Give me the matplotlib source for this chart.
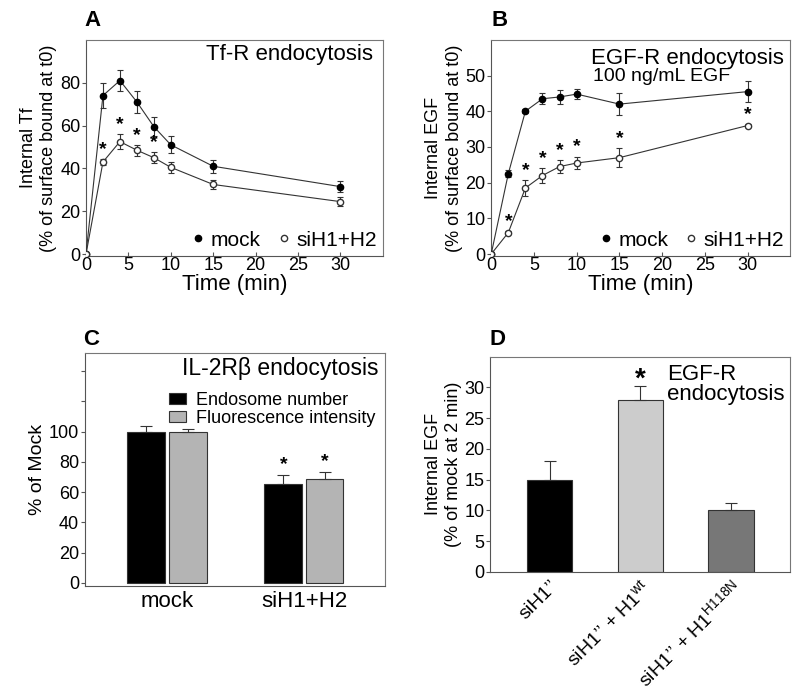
import matplotlib
matplotlib.use("Agg")
import matplotlib.pyplot as plt
from matplotlib.lines import Line2D

plt.rcParams['font.family'] = ['Liberation Sans Narrow', 'Liberation Sans', 'DejaVu Sans']
plt.rcParams['mathtext.fontset'] = 'custom'
plt.rcParams['mathtext.rm'] = 'Liberation Sans'
plt.rcParams['mathtext.it'] = 'Liberation Sans:italic'

# Panel A: Tf-R endocytosis
time_pts = [0, 2, 4, 6, 8, 10, 15, 30]
tf_mock = [0, 74, 81, 71, 59.5, 51, 41, 31.5]
tf_mock_err = [0, 6, 5, 5, 4.5, 4, 3, 2.5]
tf_si = [0, 43, 52.5, 48.5, 45, 40.5, 32.5, 24.5]
tf_si_err = [0, 1.5, 3.5, 2.5, 2.5, 2.5, 2, 2]
tf_stars = [2, 4, 6, 8]

# Panel B: EGF-R endocytosis
egf_mock = [0, 22.5, 40, 43.5, 44, 44.8, 42, 45.5]
egf_mock_err = [0, 1, 0.5, 1.5, 2, 1.5, 3, 3]
egf_si = [0, 6, 18.5, 22, 24.5, 25.5, 27, 36]
egf_si_err = [0, 0.5, 2.3, 2, 1.8, 1.8, 2.7, 0.5]
egf_stars = [2, 4, 6, 8, 10, 15, 30]

# Panel C: IL-2Rb endocytosis
c_groups = ['mock', 'siH1+H2']
c_endo = [100, 65.5]
c_endo_err = [3.5, 6]
c_fluo = [100, 68.5]
c_fluo_err = [2, 5]

# Panel D: EGF-R rescue
d_labels = ["siH1’’", "siH1’’ + H1$^{\\mathrm{wt}}$", "siH1’’ + H1$^{\\mathrm{H118N}}$"]
d_vals = [15, 28, 10]
d_err = [3, 2.2, 1.2]
d_colors = ['#000000', '#cccccc', '#777777']

fig = plt.figure(figsize=(8, 6.99), dpi=100)
spine_col = '#777777'


def style(ax):
    for s in ['top', 'right']:
        ax.spines[s].set_color(spine_col)
    for s in ['left', 'bottom']:
        ax.spines[s].set_color('#555555')
    ax.tick_params(labelsize=13, length=3, color='#555555', pad=1)


def time_panel(ax, mock, mock_err, si, si_err, stars, ylim, yticks, ylabel):
    ax.errorbar(time_pts, mock, yerr=mock_err, fmt='-o', color='#333333', lw=0.8,
                ms=4.5, mfc='black', mec='black', ecolor='#333333', elinewidth=0.8,
                capsize=2.5, capthick=0.8, zorder=3)
    ax.errorbar(time_pts, si, yerr=si_err, fmt='-o', color='#333333', lw=0.8,
                ms=4.5, mfc='white', mec='#333333', ecolor='#333333', elinewidth=0.8,
                capsize=2.5, capthick=0.8, zorder=3)
    for t in stars:
        i = time_pts.index(t)
        ax.text(t, si[i] + si_err[i] + ylim[1] * 0.005, '*', ha='center', va='bottom',
                fontsize=14, fontweight='bold')
    ax.set_xlim(0, 35)
    ax.set_ylim(*ylim)
    ax.set_xticks([0, 5, 10, 15, 20, 25, 30])
    ax.set_yticks(yticks)
    ax.set_xlabel('Time (min)', fontsize=16, labelpad=0)
    ax.set_ylabel(ylabel, fontsize=13, labelpad=2, linespacing=1.25)
    ax.tick_params(axis='x', direction='in')
    style(ax)
    handles = [Line2D([], [], ls='', marker='o', ms=4.5, mfc='black', mec='black'),
               Line2D([], [], ls='', marker='o', ms=4.5, mfc='white', mec='#333333')]
    ax.legend(handles, ['mock', 'siH1+H2'], ncol=2, loc='lower right', frameon=False,
              fontsize=15, handletextpad=0.1, columnspacing=0.6, handlelength=1,
              borderaxespad=0.1, borderpad=0.2)


axA = fig.add_axes([0.1075, 0.634, 0.371, 0.309])
time_panel(axA, tf_mock, tf_mock_err, tf_si, tf_si_err, tf_stars, (-0.8, 100),
           [0, 20, 40, 60, 80], 'Internal Tf\n(% of surface bound at t0)')
axA.text(0.966, 0.93, 'Tf-R endocytosis', transform=axA.transAxes, ha='right',
         va='center', fontsize=16)

axB = fig.add_axes([0.614, 0.634, 0.374, 0.309])
time_panel(axB, egf_mock, egf_mock_err, egf_si, egf_si_err, egf_stars, (-0.5, 60),
           [0, 10, 20, 30, 40, 50], 'Internal EGF\n(% of surface bound at t0)')
axB.text(0.977, 0.915, 'EGF-R endocytosis', transform=axB.transAxes, ha='right',
         va='center', fontsize=16)
axB.text(0.34, 0.83, '100 ng/mL EGF', transform=axB.transAxes, ha='left',
         va='center', fontsize=14)

# Panel C
axC = fig.add_axes([0.106, 0.162, 0.375, 0.333])
xs = list(range(len(c_groups)))
w = 0.277
off = 0.15
axC.bar([x - off for x in xs], c_endo, w, color='black', edgecolor='#333333', lw=0.8,
        label='Endosome number')
axC.bar([x + off for x in xs], c_fluo, w, color='#b4b4b4', edgecolor='#333333', lw=0.8,
        label='Fluorescence intensity')
axC.errorbar([x - off for x in xs], c_endo, yerr=[[0] * 2, c_endo_err], fmt='none',
             ecolor='#333333', elinewidth=0.8, capsize=4, capthick=0.8)
axC.errorbar([x + off for x in xs], c_fluo, yerr=[[0] * 2, c_fluo_err], fmt='none',
             ecolor='#333333', elinewidth=0.8, capsize=4, capthick=0.8)
for x, v, e in zip([1 - off, 1 + off], [c_endo[1], c_fluo[1]], [c_endo_err[1], c_fluo_err[1]]):
    axC.text(x, v + e + 1, '*', ha='center', va='bottom', fontsize=14, fontweight='bold')
axC.set_xlim(-0.6, 1.59)
axC.set_ylim(-2, 152)
axC.set_yticks([0, 20, 40, 60, 80, 100, 120, 140])
axC.set_yticklabels(['0', '20', '40', '60', '80', '100', '', ''])
axC.set_xticks(xs)
axC.set_xticklabels(c_groups, fontsize=16)
axC.set_ylabel('% of Mock', fontsize=14, labelpad=2)
style(axC)
axC.tick_params(axis='x', labelsize=16, length=0, pad=4)
axC.text(0.98, 0.935, 'IL-2Rβ endocytosis', transform=axC.transAxes, ha='right',
         va='center', fontsize=16.5)
axC.legend(loc='upper right', bbox_to_anchor=(1.0, 0.87), frameon=False, fontsize=13,
           handlelength=0.9, handleheight=0.55, handletextpad=0.6, labelspacing=0.05,
           borderaxespad=0.1)

# Panel D
axD = fig.add_axes([0.6125, 0.182, 0.375, 0.3076])
dx = list(range(len(d_vals)))
axD.bar(dx, d_vals, 0.5, color=d_colors, edgecolor='#333333', lw=0.8)
axD.errorbar(dx, d_vals, yerr=[[0] * 3, d_err], fmt='none', ecolor='#333333',
             elinewidth=0.8, capsize=4, capthick=0.8)
axD.text(1, d_vals[1] + d_err[1] + 1.0, '*', ha='center', va='center', fontsize=20,
         fontweight='bold')
axD.set_xlim(-0.66, 2.65)
axD.set_ylim(0, 35)
axD.set_yticks([0, 5, 10, 15, 20, 25, 30])
axD.set_xticks(dx)
axD.set_xticklabels(d_labels, rotation=45, ha='right', rotation_mode='anchor')
axD.set_ylabel('Internal EGF\n(% of mock at 2 min)', fontsize=13, labelpad=2,
               linespacing=1.2)
style(axD)
axD.tick_params(axis='x', length=0, labelsize=14, pad=4)
axD.text(0.59, 0.87, 'EGF-R\nendocytosis', transform=axD.transAxes, ha='left',
         va='center', fontsize=16, linespacing=0.95)

# panel letters
for lbl, x, y in [('A', 0.106, 0.985), ('B', 0.614, 0.985), ('C', 0.104, 0.53), ('D', 0.612, 0.53)]:
    fig.text(x, y, lbl, fontsize=16, fontweight='bold', va='top', ha='left')

fig.savefig('out.png', dpi=100)
